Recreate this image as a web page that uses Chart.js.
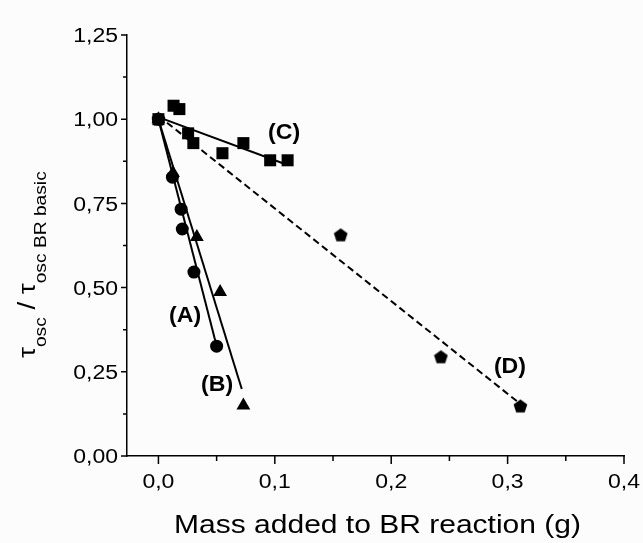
<!DOCTYPE html>
<html>
  <head>
    <meta charset="UTF-8" />
    <title>Mass added to BR reaction</title>
    <script src="https://cdn.jsdelivr.net/npm/chart.js@4.4.0/dist/chart.umd.min.js"></script>
    <style>
      body { margin: 0; background: #fcfcfc; }
    </style>
  </head>
  <body>
    <canvas id="chart" width="643" height="543"></canvas>
    <script>
      // series A (circles)
      const aX = [0, 0.012, 0.0195, 0.0205, 0.0305, 0.050];
      const aY = [1.00, 0.828, 0.733, 0.674, 0.546, 0.326];
      // series B (triangles)
      const bX = [0, 0.0125, 0.033, 0.053, 0.073];
      const bY = [1.00, 0.84, 0.65, 0.487, 0.15];
      // series C (squares)
      const cX = [0, 0.013, 0.018, 0.0255, 0.030, 0.055, 0.073, 0.096, 0.111];
      const cY = [1.00, 1.04, 1.03, 0.958, 0.929, 0.899, 0.929, 0.878, 0.878];
      // series D (pentagons)
      const dX = [0, 0.1566, 0.2427, 0.311];
      const dY = [1.00, 0.656, 0.294, 0.148];

      // fitted lines, end points
      const fitA = [[0, 1.00], [0.0505, 0.32]];
      const fitB = [[0, 1.00], [0.0716, 0.199]];
      const fitC = [[0, 1.006], [0.111, 0.864]];
      const fitD = [[0, 1.01], [0.309, 0.16]];

      const labels = [
        { text: "(A)", x: 0.0229, y: 0.415 },
        { text: "(B)", x: 0.0504, y: 0.211 },
        { text: "(C)", x: 0.108, y: 0.958 },
        { text: "(D)", x: 0.302, y: 0.264 }
      ];

      const xMajor = [0, 0.1, 0.2, 0.3, 0.4];
      const xMinor = [0.05, 0.15, 0.25, 0.35];
      const yMajor = [0, 0.25, 0.5, 0.75, 1.0, 1.25];
      const yMinor = [0.125, 0.375, 0.625, 0.875, 1.125];

      const FONT = "'Liberation Sans', Arial, sans-serif";
      const STRETCH = 1.15; // the original lettering is a bit wide

      function pts(xs, ys) {
        return xs.map((x, i) => ({ x: x, y: ys[i] }));
      }
      function pairs(p) {
        return p.map(v => ({ x: v[0], y: v[1] }));
      }
      function wideText(c, txt, x, y, sx) {
        c.save();
        c.translate(x, y);
        c.scale(sx, 1);
        c.fillText(txt, 0, 0);
        c.restore();
      }

      // pentagon marker
      const penta = document.createElement("canvas");
      penta.width = 15;
      penta.height = 15;
      const pc = penta.getContext("2d");
      pc.beginPath();
      for (let i = 0; i < 5; i++) {
        const a = -Math.PI / 2 + i * 2 * Math.PI / 5;
        const px = 7.5 + 7.2 * Math.cos(a);
        const py = 8 + 7.2 * Math.sin(a);
        if (i === 0) pc.moveTo(px, py); else pc.lineTo(px, py);
      }
      pc.closePath();
      pc.fillStyle = "#000";
      pc.fill();

      const extras = {
        id: "extras",
        beforeDraw(chart) {
          const c = chart.ctx;
          c.save();
          c.fillStyle = "#fcfcfc";
          c.fillRect(0, 0, chart.width, chart.height);
          c.restore();
        },
        afterDraw(chart) {
          const c = chart.ctx;
          const xs = chart.scales.x;
          const ys = chart.scales.y;
          const area = chart.chartArea;
          c.save();
          c.strokeStyle = "#000";
          c.lineWidth = 1.5;
          c.beginPath();
          xMajor.forEach(v => {
            const p = xs.getPixelForValue(v);
            c.moveTo(p, area.bottom); c.lineTo(p, area.bottom + 8);
          });
          xMinor.forEach(v => {
            const p = xs.getPixelForValue(v);
            c.moveTo(p, area.bottom); c.lineTo(p, area.bottom + 5);
          });
          yMajor.forEach(v => {
            const p = ys.getPixelForValue(v);
            c.moveTo(area.left, p); c.lineTo(area.left - 6, p);
          });
          yMinor.forEach(v => {
            const p = ys.getPixelForValue(v);
            c.moveTo(area.left, p); c.lineTo(area.left - 4, p);
          });
          c.stroke();

          c.fillStyle = "#000";
          // tick labels
          c.font = "20px " + FONT;
          c.textBaseline = "alphabetic";
          c.textAlign = "center";
          xMajor.forEach(v => {
            wideText(c, v.toFixed(1).replace(".", ","), xs.getPixelForValue(v), 488, STRETCH);
          });
          c.textAlign = "right";
          yMajor.forEach(v => {
            wideText(c, v.toFixed(2).replace(".", ","), 118, ys.getPixelForValue(v) + 7.2, STRETCH);
          });

          // series labels
          c.font = "bold 22px " + FONT;
          c.textAlign = "center";
          c.textBaseline = "middle";
          labels.forEach(l => {
            wideText(c, l.text, xs.getPixelForValue(l.x), ys.getPixelForValue(l.y), 1.05);
          });

          // x title
          c.font = "25px " + FONT;
          c.textBaseline = "alphabetic";
          wideText(c, "Mass added to BR reaction (g)", 377.5, 533, 1.2);

          // y title, rotated, with subscripts
          c.translate(35, 358);
          c.rotate(-Math.PI / 2);
          c.scale(1.2, 1);
          c.textAlign = "left";
          const big = "23px " + FONT;
          const small = "16px " + FONT;
          let pos = 0;
          const parts = [
            ["\u03c4", big, 0], ["osc", small, 11], [" / ", big, 0],
            ["\u03c4", big, 0], ["osc BR basic", small, 11]
          ];
          parts.forEach(p => {
            c.font = p[1];
            c.fillText(p[0], pos, p[2]);
            pos += c.measureText(p[0]).width;
          });
          c.restore();
        }
      };

      const ctx = document.getElementById("chart").getContext("2d");
      const myChart = new Chart(ctx, {
        type: "scatter",
        data: {
          datasets: [
            { data: pts(aX, aY), pointStyle: "circle", pointRadius: 6.5 },
            { data: pts(bX, bY), pointStyle: "triangle", pointRadius: 8 },
            { data: pts(cX, cY), pointStyle: "rect", pointRadius: 8.5 },
            { data: pts(dX, dY), pointStyle: penta, pointRadius: 7 },
            { data: pairs(fitA), showLine: true, pointRadius: 0, borderWidth: 2 },
            { data: pairs(fitB), showLine: true, pointRadius: 0, borderWidth: 2 },
            { data: pairs(fitC), showLine: true, pointRadius: 0, borderWidth: 2 },
            { data: pairs(fitD), showLine: true, pointRadius: 0, borderWidth: 2, borderDash: [7, 4] }
          ].map(d => Object.assign({
            backgroundColor: "#000",
            borderColor: "#000",
            pointBorderWidth: 0,
            pointHoverRadius: 0
          }, d))
        },
        options: {
          responsive: false,
          animation: false,
          events: [],
          layout: { padding: { left: 0, top: 35, right: 19, bottom: 0 } },
          plugins: { legend: { display: false }, tooltip: { enabled: false } },
          scales: {
            x: {
              type: "linear",
              min: -0.027,
              max: 0.4,
              grid: { display: false, drawTicks: false },
              border: { display: true, color: "#000", width: 1.5 },
              afterBuildTicks: s => { s.ticks = xMajor.map(v => ({ value: v })); },
              afterFit: s => { s.height = 87; s.paddingLeft = 0; s.paddingRight = 0; },
              ticks: { display: false }
            },
            y: {
              type: "linear",
              min: 0,
              max: 1.25,
              grid: { display: false, drawTicks: false },
              border: { display: true, color: "#000", width: 1.5 },
              afterBuildTicks: s => { s.ticks = yMajor.map(v => ({ value: v })); },
              afterFit: s => { s.width = 127; s.paddingTop = 0; s.paddingBottom = 0; },
              ticks: { display: false }
            }
          }
        },
        plugins: [extras]
      });
    </script>
  </body>
</html>
